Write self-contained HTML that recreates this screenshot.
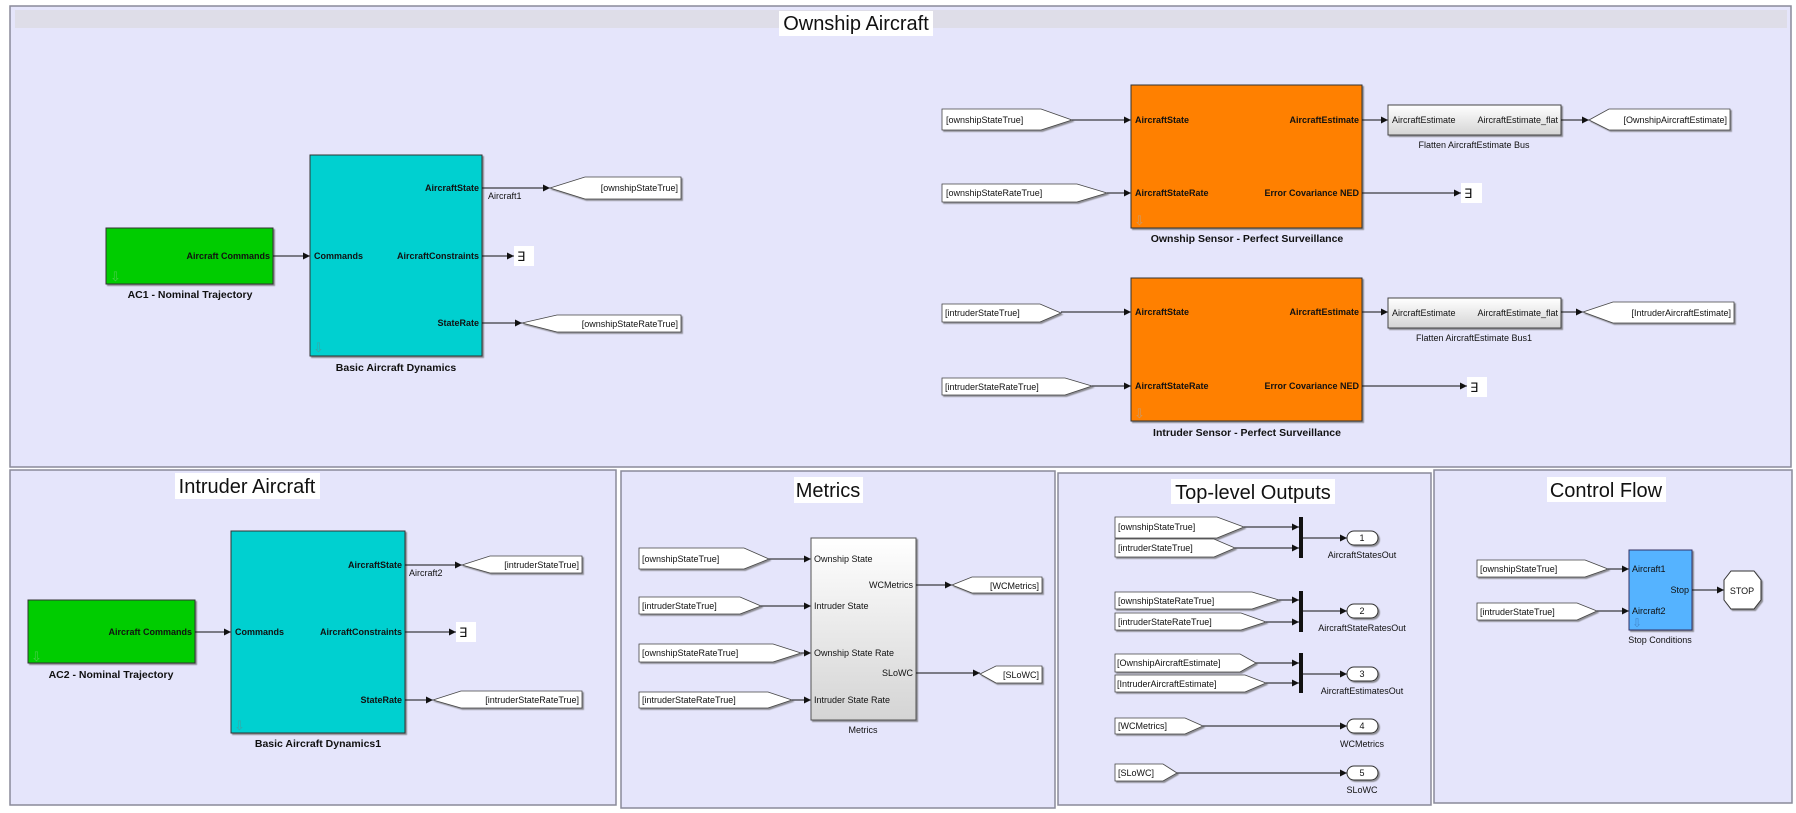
<!DOCTYPE html>
<html><head><meta charset="utf-8"><style>
html,body{margin:0;padding:0;background:#fff;}
svg{display:block;font-family:"Liberation Sans",sans-serif;}
.pn{fill:#e5e5fb;stroke:#8a8a9a;stroke-width:1.5;}
.tg{fill:#fff;stroke:#444;stroke-width:0.8;filter:url(#sh);}
.ln{stroke:#111;stroke-width:1;fill:none;marker-end:url(#ar);}
.t9{font-size:9px;fill:#111;}
.b9{font-size:9px;font-weight:bold;fill:#111;}
.b10{font-size:10.5px;font-weight:bold;fill:#111;}
.ti{font-size:20px;fill:#111;}
</style></head><body>
<svg width="1796" height="813" viewBox="0 0 1796 813">
<defs>
<marker id="ar" markerWidth="8" markerHeight="8" refX="7" refY="4" orient="auto" markerUnits="userSpaceOnUse"><path d="M0,0.5 L7,4 L0,7.5 z" fill="#111"/></marker>
<filter id="sh" x="-10%" y="-10%" width="130%" height="140%"><feDropShadow dx="1.5" dy="1.5" stdDeviation="0.6" flood-color="#666" flood-opacity="0.7"/></filter>
<linearGradient id="gm" x1="0" y1="0" x2="0" y2="1"><stop offset="0" stop-color="#fff"/><stop offset="1" stop-color="#d4d4d4"/></linearGradient>
</defs>
<rect width="1796" height="813" fill="#fff"/>
<!-- panels -->
<rect class="pn" x="10" y="6" width="1781" height="461"/>
<rect x="15" y="10" width="1772" height="18" fill="#dedde8"/>
<rect x="779" y="11" width="154" height="25" fill="#fff"/>
<text class="ti" x="856" y="30" text-anchor="middle">Ownship Aircraft</text>

<rect class="pn" x="10" y="470" width="606" height="335"/>
<rect x="175" y="473" width="145" height="26" fill="#fff"/>
<text class="ti" x="247" y="493" text-anchor="middle">Intruder Aircraft</text>

<rect class="pn" x="621" y="471" width="434" height="337"/>
<rect x="794" y="477" width="69" height="26" fill="#fff"/>
<text class="ti" x="828" y="497" text-anchor="middle">Metrics</text>

<rect class="pn" x="1058" y="473" width="373" height="332"/>
<rect x="1171" y="479" width="164" height="25" fill="#fff"/>
<text class="ti" x="1253" y="499" text-anchor="middle">Top-level Outputs</text>

<rect class="pn" x="1434" y="470" width="358" height="333"/>
<rect x="1547" y="477" width="119" height="25" fill="#fff"/>
<text class="ti" x="1606" y="497" text-anchor="middle">Control Flow</text>

<!-- ===== Ownship ===== -->
<rect x="106" y="228" width="167" height="56" fill="#00cc00" stroke="#333" filter="url(#sh)"/>
<text class="b9" x="270" y="259" text-anchor="end">Aircraft Commands</text>
<text x="110" y="281" font-size="13" fill="#4c4">⇩</text>
<text class="b10" x="190" y="298" text-anchor="middle">AC1 - Nominal Trajectory</text>
<line class="ln" x1="273" y1="256" x2="310" y2="256"/>
<rect x="310" y="155" width="172" height="201" fill="#00d0d0" stroke="#333" filter="url(#sh)"/>
<text class="b9" x="314" y="259">Commands</text>
<text class="b9" x="479" y="191" text-anchor="end">AircraftState</text>
<text class="b9" x="479" y="259" text-anchor="end">AircraftConstraints</text>
<text class="b9" x="479" y="326" text-anchor="end">StateRate</text>
<text x="313" y="352" font-size="13" fill="#3aa">⇩</text>
<text class="b10" x="396" y="371" text-anchor="middle">Basic Aircraft Dynamics</text>
<line class="ln" x1="482" y1="188" x2="550" y2="188"/>
<text class="t9" x="488" y="199" font-size="8">Aircraft1</text>
<polygon class="tg" points="550,188 585,177 681,177 681,199 585,199"/>
<text class="t9" x="678" y="191" text-anchor="end">[ownshipStateTrue]</text>
<line class="ln" x1="482" y1="256" x2="514" y2="256"/>
<rect x="514" y="246" width="20" height="20" fill="#fff"/><text x="517" y="261" font-size="13" fill="#111">∃</text>
<line class="ln" x1="482" y1="323" x2="522" y2="323"/>
<polygon class="tg" points="522,323 557,315 681,315 681,332 557,332"/>
<text class="t9" x="678" y="327" text-anchor="end">[ownshipStateRateTrue]</text>

<polygon class="tg" points="942,109 1041,109 1072,120 1041,130 942,130"/>
<text class="t9" x="946" y="123">[ownshipStateTrue]</text>
<line class="ln" x1="1072" y1="120" x2="1131" y2="120"/>
<polygon class="tg" points="942,184 1077,184 1107,193 1077,202 942,202"/>
<text class="t9" x="946" y="196">[ownshipStateRateTrue]</text>
<line class="ln" x1="1107" y1="193" x2="1131" y2="193"/>
<rect x="1131" y="85" width="231" height="143" fill="#ff8000" stroke="#333" filter="url(#sh)"/>
<text class="b9" x="1135" y="123">AircraftState</text>
<text class="b9" x="1135" y="196">AircraftStateRate</text>
<text class="b9" x="1359" y="123" text-anchor="end">AircraftEstimate</text>
<text class="b9" x="1359" y="196" text-anchor="end">Error Covariance NED</text>
<text x="1134" y="225" font-size="13" fill="#c96">⇩</text>
<text class="b10" x="1247" y="242" text-anchor="middle">Ownship Sensor - Perfect Surveillance</text>
<line class="ln" x1="1362" y1="120" x2="1388" y2="120"/>
<rect x="1388" y="105" width="173" height="30" fill="url(#gm)" stroke="#444" filter="url(#sh)"/>
<text class="t9" x="1392" y="123" font-size="8.5">AircraftEstimate</text>
<text class="t9" x="1558" y="123" font-size="8.5" text-anchor="end">AircraftEstimate_flat</text>
<text class="t9" x="1474" y="148" text-anchor="middle">Flatten AircraftEstimate Bus</text>
<line class="ln" x1="1561" y1="120" x2="1589" y2="120"/>
<polygon class="tg" points="1589,120 1609,109 1730,109 1730,130 1609,130"/>
<text class="t9" x="1727" y="123" text-anchor="end">[OwnshipAircraftEstimate]</text>
<line class="ln" x1="1362" y1="193" x2="1461" y2="193"/>
<rect x="1461" y="183" width="21" height="20" fill="#fff"/><text x="1464" y="198" font-size="13" fill="#111">∃</text>

<polygon class="tg" points="942,304 1040,304 1061,313 1040,322 942,322"/>
<text class="t9" x="945" y="316">[intruderStateTrue]</text>
<line class="ln" x1="1061" y1="312" x2="1131" y2="312"/>
<polygon class="tg" points="942,378 1065,378 1092,386 1065,395 942,395"/>
<text class="t9" x="945" y="390">[intruderStateRateTrue]</text>
<line class="ln" x1="1092" y1="386" x2="1131" y2="386"/>
<rect x="1131" y="278" width="231" height="143" fill="#ff8000" stroke="#333" filter="url(#sh)"/>
<text class="b9" x="1135" y="315">AircraftState</text>
<text class="b9" x="1135" y="389">AircraftStateRate</text>
<text class="b9" x="1359" y="315" text-anchor="end">AircraftEstimate</text>
<text class="b9" x="1359" y="389" text-anchor="end">Error Covariance NED</text>
<text x="1134" y="418" font-size="13" fill="#c96">⇩</text>
<text class="b10" x="1247" y="436" text-anchor="middle">Intruder Sensor - Perfect Surveillance</text>
<line class="ln" x1="1362" y1="312" x2="1388" y2="312"/>
<rect x="1388" y="298" width="173" height="30" fill="url(#gm)" stroke="#444" filter="url(#sh)"/>
<text class="t9" x="1392" y="316" font-size="8.5">AircraftEstimate</text>
<text class="t9" x="1558" y="316" font-size="8.5" text-anchor="end">AircraftEstimate_flat</text>
<text class="t9" x="1474" y="341" text-anchor="middle">Flatten AircraftEstimate Bus1</text>
<line class="ln" x1="1561" y1="312" x2="1583" y2="312"/>
<polygon class="tg" points="1583,312 1613,302 1734,302 1734,323 1613,323"/>
<text class="t9" x="1731" y="316" text-anchor="end">[IntruderAircraftEstimate]</text>
<line class="ln" x1="1362" y1="386" x2="1467" y2="386"/>
<rect x="1467" y="377" width="20" height="20" fill="#fff"/><text x="1470" y="392" font-size="13" fill="#111">∃</text>

<!-- ===== Intruder ===== -->
<rect x="28" y="600" width="167" height="63" fill="#00cc00" stroke="#333" filter="url(#sh)"/>
<text class="b9" x="192" y="635" text-anchor="end">Aircraft Commands</text>
<text x="31" y="661" font-size="13" fill="#4c4">⇩</text>
<text class="b10" x="111" y="678" text-anchor="middle">AC2 - Nominal Trajectory</text>
<line class="ln" x1="195" y1="632" x2="231" y2="632"/>
<rect x="231" y="531" width="174" height="202" fill="#00d0d0" stroke="#333" filter="url(#sh)"/>
<text class="b9" x="235" y="635">Commands</text>
<text class="b9" x="402" y="568" text-anchor="end">AircraftState</text>
<text class="b9" x="402" y="635" text-anchor="end">AircraftConstraints</text>
<text class="b9" x="402" y="703" text-anchor="end">StateRate</text>
<text x="234" y="730" font-size="13" fill="#3aa">⇩</text>
<text class="b10" x="318" y="747" text-anchor="middle">Basic Aircraft Dynamics1</text>
<line class="ln" x1="405" y1="565" x2="462" y2="565"/>
<text class="t9" x="409" y="576" font-size="8">Aircraft2</text>
<polygon class="tg" points="462,565 490,556 582,556 582,573 490,573"/>
<text class="t9" x="579" y="568" text-anchor="end">[intruderStateTrue]</text>
<line class="ln" x1="405" y1="632" x2="456" y2="632"/>
<rect x="456" y="622" width="20" height="20" fill="#fff"/><text x="459" y="637" font-size="13" fill="#111">∃</text>
<line class="ln" x1="405" y1="700" x2="433" y2="700"/>
<polygon class="tg" points="433,700 461,691 582,691 582,708 461,708"/>
<text class="t9" x="579" y="703" text-anchor="end">[intruderStateRateTrue]</text>

<!-- ===== Metrics ===== -->
<polygon class="tg" points="639,548 744,548 769,559 744,569 639,569"/>
<text class="t9" x="642" y="562">[ownshipStateTrue]</text>
<line class="ln" x1="769" y1="559" x2="811" y2="559"/>
<polygon class="tg" points="639,597 740,597 761,606 740,614 639,614"/>
<text class="t9" x="642" y="609">[intruderStateTrue]</text>
<line class="ln" x1="761" y1="606" x2="811" y2="606"/>
<polygon class="tg" points="639,644 773,644 801,653 773,662 639,662"/>
<text class="t9" x="642" y="656">[ownshipStateRateTrue]</text>
<line class="ln" x1="801" y1="653" x2="811" y2="653"/>
<polygon class="tg" points="639,692 768,692 792,700 768,708 639,708"/>
<text class="t9" x="642" y="703">[intruderStateRateTrue]</text>
<line class="ln" x1="792" y1="700" x2="811" y2="700"/>
<rect x="811" y="538" width="105" height="182" fill="url(#gm)" stroke="#555" filter="url(#sh)"/>
<text class="t9" x="814" y="562" font-size="8.5">Ownship State</text>
<text class="t9" x="814" y="609" font-size="8.5">Intruder State</text>
<text class="t9" x="814" y="656" font-size="8.5">Ownship State Rate</text>
<text class="t9" x="814" y="703" font-size="8.5">Intruder State Rate</text>
<text class="t9" x="913" y="588" font-size="8.5" text-anchor="end">WCMetrics</text>
<text class="t9" x="913" y="676" font-size="8.5" text-anchor="end">SLoWC</text>
<text class="t9" x="863" y="733" text-anchor="middle">Metrics</text>
<line class="ln" x1="916" y1="585" x2="952" y2="585"/>
<polygon class="tg" points="952,585 972,577 1042,577 1042,593 972,593"/>
<text class="t9" x="1039" y="589" text-anchor="end">[WCMetrics]</text>
<line class="ln" x1="916" y1="673" x2="980" y2="673"/>
<polygon class="tg" points="980,674 996,666 1042,666 1042,683 996,683"/>
<text class="t9" x="1039" y="678" text-anchor="end">[SLoWC]</text>

<!-- ===== Top-level Outputs ===== -->
<polygon class="tg" points="1115,517 1217,517 1244,527 1217,538 1115,538"/>
<text class="t9" x="1118" y="530">[ownshipStateTrue]</text>
<line class="ln" x1="1244" y1="527" x2="1299" y2="527"/>
<polygon class="tg" points="1115,539 1214,539 1235,548 1214,557 1115,557"/>
<text class="t9" x="1118" y="551">[intruderStateTrue]</text>
<line class="ln" x1="1235" y1="548" x2="1299" y2="548"/>
<rect x="1299" y="517" width="4" height="41" fill="#111"/>
<line class="ln" x1="1303" y1="538" x2="1347" y2="538"/>
<rect x="1347" y="531" width="31" height="14" rx="7" fill="#fff" stroke="#333" filter="url(#sh)"/>
<text class="t9" x="1362" y="541" text-anchor="middle">1</text>
<text class="t9" x="1362" y="558" text-anchor="middle">AircraftStatesOut</text>

<polygon class="tg" points="1115,592 1252,592 1279,600 1252,609 1115,609"/>
<text class="t9" x="1118" y="604">[ownshipStateRateTrue]</text>
<line class="ln" x1="1279" y1="600" x2="1299" y2="600"/>
<polygon class="tg" points="1115,613 1241,613 1266,622 1241,630 1115,630"/>
<text class="t9" x="1118" y="625">[intruderStateRateTrue]</text>
<line class="ln" x1="1266" y1="622" x2="1299" y2="622"/>
<rect x="1299" y="591" width="4" height="41" fill="#111"/>
<line class="ln" x1="1303" y1="611" x2="1347" y2="611"/>
<rect x="1347" y="604" width="31" height="14" rx="7" fill="#fff" stroke="#333" filter="url(#sh)"/>
<text class="t9" x="1362" y="614" text-anchor="middle">2</text>
<text class="t9" x="1362" y="631" text-anchor="middle">AircraftStateRatesOut</text>

<polygon class="tg" points="1115,654 1240,654 1256,663 1240,672 1115,672"/>
<text class="t9" x="1117" y="666" font-size="8.5">[OwnshipAircraftEstimate]</text>
<line class="ln" x1="1256" y1="663" x2="1299" y2="663"/>
<polygon class="tg" points="1115,675 1245,675 1266,683 1245,692 1115,692"/>
<text class="t9" x="1117" y="687" font-size="8.5">[IntruderAircraftEstimate]</text>
<line class="ln" x1="1266" y1="683" x2="1299" y2="683"/>
<rect x="1299" y="653" width="4" height="40" fill="#111"/>
<line class="ln" x1="1303" y1="674" x2="1347" y2="674"/>
<rect x="1347" y="667" width="31" height="14" rx="7" fill="#fff" stroke="#333" filter="url(#sh)"/>
<text class="t9" x="1362" y="677" text-anchor="middle">3</text>
<text class="t9" x="1362" y="694" text-anchor="middle">AircraftEstimatesOut</text>

<polygon class="tg" points="1115,718 1185,718 1203,726 1185,734 1115,734"/>
<text class="t9" x="1118" y="729">[WCMetrics]</text>
<line class="ln" x1="1203" y1="726" x2="1347" y2="726"/>
<rect x="1347" y="719" width="31" height="14" rx="7" fill="#fff" stroke="#333" filter="url(#sh)"/>
<text class="t9" x="1362" y="729" text-anchor="middle">4</text>
<text class="t9" x="1362" y="747" text-anchor="middle">WCMetrics</text>

<polygon class="tg" points="1115,764 1163,764 1177,773 1163,781 1115,781"/>
<text class="t9" x="1118" y="776">[SLoWC]</text>
<line class="ln" x1="1177" y1="773" x2="1347" y2="773"/>
<rect x="1347" y="766" width="31" height="14" rx="7" fill="#fff" stroke="#333" filter="url(#sh)"/>
<text class="t9" x="1362" y="776" text-anchor="middle">5</text>
<text class="t9" x="1362" y="793" text-anchor="middle">SLoWC</text>

<!-- ===== Control Flow ===== -->
<polygon class="tg" points="1477,560 1585,560 1608,569 1585,577 1477,577"/>
<text class="t9" x="1480" y="572">[ownshipStateTrue]</text>
<line class="ln" x1="1608" y1="569" x2="1629" y2="569"/>
<polygon class="tg" points="1477,603 1577,603 1597,611 1577,620 1477,620"/>
<text class="t9" x="1480" y="615">[intruderStateTrue]</text>
<line class="ln" x1="1597" y1="611" x2="1629" y2="611"/>
<rect x="1629" y="550" width="63" height="80" fill="#55b3ff" stroke="#336" filter="url(#sh)"/>
<text class="t9" x="1632" y="572" font-size="8.5">Aircraft1</text>
<text class="t9" x="1632" y="614" font-size="8.5">Aircraft2</text>
<text class="t9" x="1689" y="593" font-size="8.5" text-anchor="end">Stop</text>
<text x="1632" y="627" font-size="12" fill="#48c">⇩</text>
<text class="t9" x="1660" y="643" text-anchor="middle">Stop Conditions</text>
<line class="ln" x1="1692" y1="590" x2="1724" y2="590"/>
<polygon points="1731,571 1754,571 1761,580 1761,600 1754,609 1731,609 1724,600 1724,580" fill="#fff" stroke="#333" filter="url(#sh)"/>
<text class="t9" x="1742" y="594" text-anchor="middle" font-size="10">STOP</text>
</svg>
</body></html>
